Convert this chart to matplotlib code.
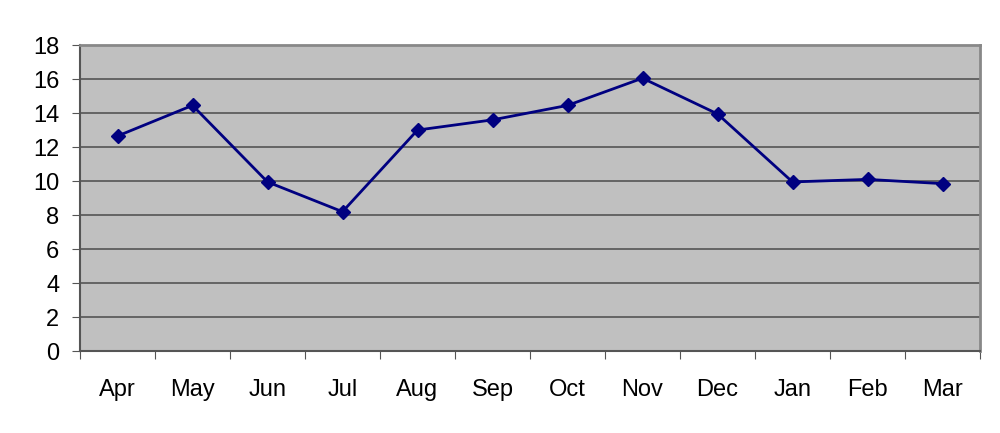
import matplotlib
matplotlib.use("Agg")
import matplotlib.pyplot as plt
import numpy as np

months = ["Apr", "May", "Jun", "Jul", "Aug", "Sep", "Oct", "Nov", "Dec", "Jan", "Feb", "Mar"]
values = [12.65, 14.45, 9.95, 8.2, 13.0, 13.6, 14.45, 16.05, 13.95, 9.95, 10.1, 9.85]
yticks = [0, 2, 4, 6, 8, 10, 12, 14, 16, 18]

plt.rcParams['font.family'] = ['Liberation Sans', 'DejaVu Sans']
fig = plt.figure(figsize=(10, 4.33), dpi=100)
ax = fig.add_axes([0.08, 0.189, 0.90, 0.707])
ax.set_facecolor('#C0C0C0')

x = np.arange(len(months))
ax.plot(x, values, color='#000080', linewidth=2, marker='D', markersize=7,
        markerfacecolor='#000080', markeredgecolor='#000080', zorder=3)

ax.set_xlim(-0.5, len(months) - 0.5)
ax.set_ylim(0, 18)
ax.set_yticks(yticks)
ax.set_yticklabels([str(t) for t in yticks], fontsize=17)
ax.yaxis.grid(True, color='#555555', linewidth=1.2)
ax.set_axisbelow(True)

ax.set_xticks(np.arange(-0.5, len(months) + 0.5, 1))
ax.set_xticklabels([])
ax.set_xticks(x, minor=True)
ax.set_xticklabels(months, minor=True, fontsize=17)
ax.tick_params(axis='x', which='minor', length=0, pad=20)
ax.tick_params(axis='x', which='major', length=6, color='#555555', direction='out')
ax.tick_params(axis='y', length=6, color='#555555', direction='out', pad=9)

for s in ['left', 'bottom']:
    ax.spines[s].set_color('#555555')
    ax.spines[s].set_linewidth(1.5)
for s in ['top', 'right']:
    ax.spines[s].set_color('#888888')
    ax.spines[s].set_linewidth(2)

fig.savefig('out.png', dpi=100, facecolor='white')
